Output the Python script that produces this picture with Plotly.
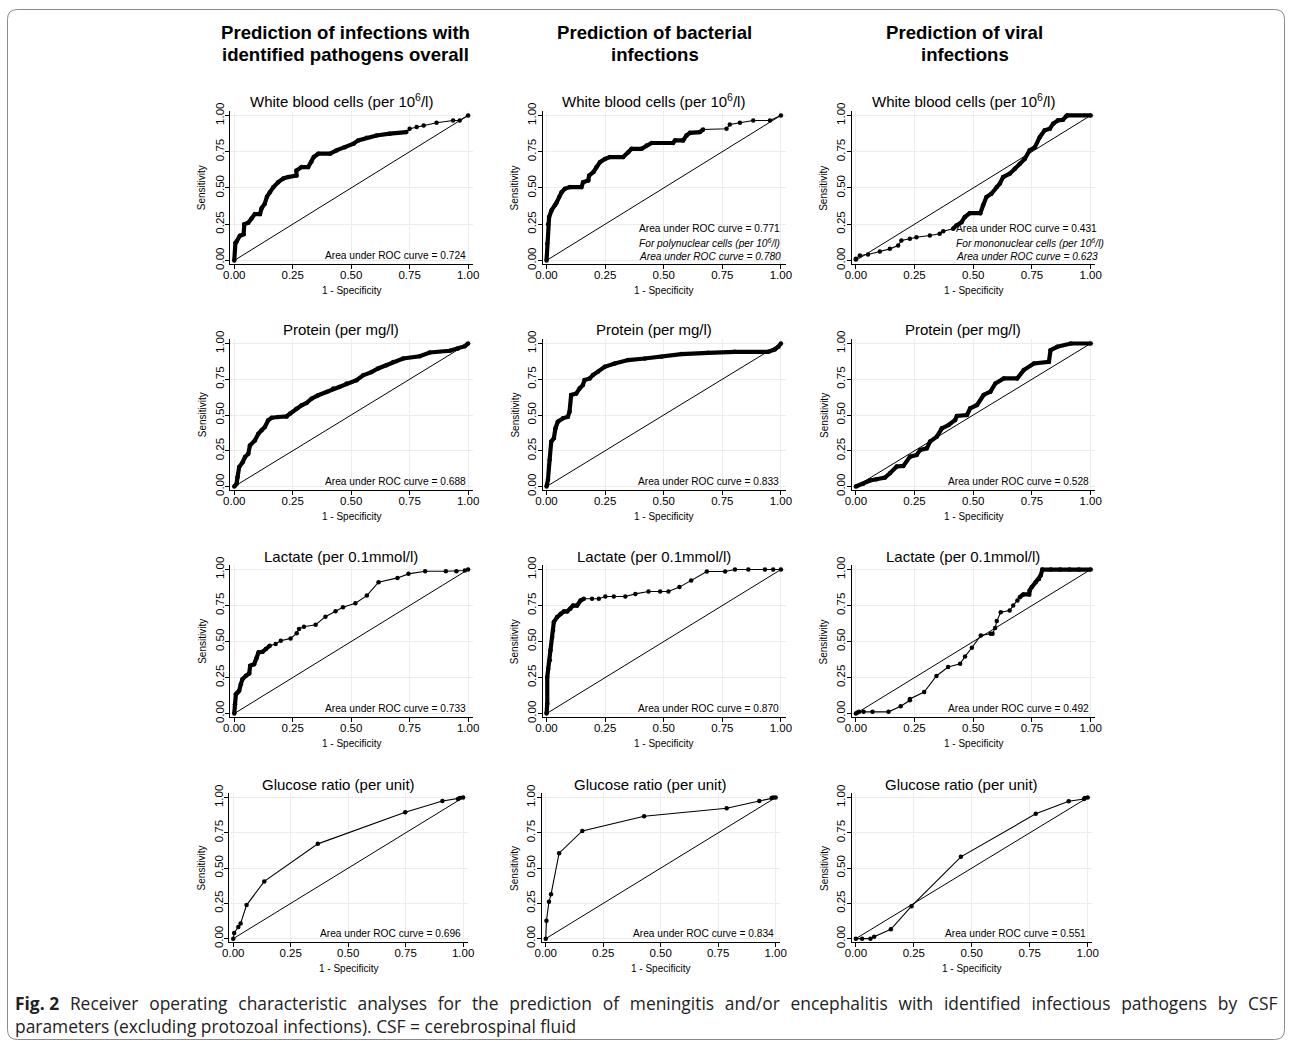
import plotly.graph_objects as go

# figure fills the whole page (body margin removed in the page script)
OFF = 0
W, H = 1292, 1046
# observed page -> picture mapping (picture = a * page + b); positions below are picture pixels
AX, BX = 0.9898, 6.6
AY, BY = 0.9854, 8.6

# ---------------- text ----------------
col_titles = [["Prediction of infections with", "identified pathogens overall"],
              ["Prediction of bacterial", "infections"],
              ["Prediction of viral", "infections"]]
row_titles = ["White blood cells (per 10<sup>6</sup>/l)", "Protein (per mg/l)",
              "Lactate (per 0.1mmol/l)", "Glucose ratio (per unit)"]
tick_vals = [0, 0.25, 0.5, 0.75, 1.0]
tick_text = ["0.00", "0.25", "0.50", "0.75", "1.00"]
auc = [["0.724", "0.771", "0.431"],
       ["0.688", "0.833", "0.528"],
       ["0.733", "0.870", "0.492"],
       ["0.696", "0.834", "0.551"]]
auc_extra = {1: ("For polynuclear cells (per 10<sup>6</sup>/l)", "0.780"),
             2: ("For mononuclear cells (per 10<sup>6</sup>/l)", "0.623")}
caption1_words = ["<b>Fig.", "2</b>", "Receiver", "operating", "characteristic", "analyses", "for",
                  "the", "prediction", "of", "meningitis", "and/or", "encephalitis", "with",
                  "identified", "infectious", "pathogens", "by", "CSF"]
caption2 = "parameters (excluding protozoal infections). CSF = cerebrospinal fluid"

# ---------------- data (1 - specificity, sensitivity) ----------------
diag = [0, 1]

wbc_all_x = [0, 0.005, 0.01, 0.024, 0.04, 0.043, 0.06, 0.074, 0.088, 0.11, 0.117, 0.13, 0.14, 0.152,
             0.167, 0.188, 0.21, 0.23, 0.266, 0.266, 0.288, 0.316, 0.33, 0.34, 0.36, 0.41, 0.437,
             0.473, 0.51, 0.53, 0.566, 0.608, 0.665, 0.736, 0.75, 0.78, 0.81, 0.865, 0.936, 0.964, 1.0]
wbc_all_y = [0, 0.12, 0.13, 0.17, 0.18, 0.25, 0.26, 0.29, 0.32, 0.32, 0.36, 0.39, 0.44, 0.47, 0.505,
             0.54, 0.565, 0.575, 0.586, 0.62, 0.644, 0.644, 0.68, 0.713, 0.736, 0.736, 0.759, 0.78,
             0.805, 0.828, 0.846, 0.862, 0.874, 0.885, 0.908, 0.92, 0.93, 0.95, 0.965, 0.965, 1.0]

wbc_bac_x = [0, 0.003, 0.007, 0.011, 0.021, 0.036, 0.043, 0.054, 0.064, 0.078, 0.1, 0.149, 0.156,
             0.178, 0.182, 0.2, 0.213, 0.228, 0.249, 0.27, 0.327, 0.349, 0.363, 0.405, 0.427, 0.448,
             0.54, 0.548, 0.583, 0.597, 0.612, 0.654, 0.668, 0.768, 0.782, 0.825, 0.882, 0.953, 1.0]
wbc_bac_y = [0, 0.115, 0.25, 0.3, 0.345, 0.38, 0.40, 0.437, 0.47, 0.494, 0.506, 0.506, 0.54, 0.552,
             0.586, 0.61, 0.644, 0.678, 0.70, 0.713, 0.713, 0.747, 0.77, 0.77, 0.793, 0.81, 0.81,
             0.828, 0.828, 0.862, 0.88, 0.885, 0.903, 0.908, 0.938, 0.95, 0.965, 0.965, 1.0]

wbc_vir_x = [0, 0, 0.017, 0.052, 0.102, 0.145, 0.18, 0.194, 0.23, 0.258, 0.315, 0.357, 0.372, 0.414,
             0.428, 0.45, 0.464, 0.485, 0.53, 0.542, 0.556, 0.577, 0.6, 0.613, 0.627, 0.655, 0.677,
             0.698, 0.719, 0.74, 0.762, 0.783, 0.804, 0.826, 0.84, 0.861, 0.882, 0.896, 0.9, 1.0]
wbc_vir_y = [0.007, 0.011, 0.034, 0.041, 0.062, 0.08, 0.103, 0.138, 0.15, 0.16, 0.172, 0.184, 0.202,
             0.218, 0.241, 0.264, 0.3, 0.326, 0.326, 0.38, 0.437, 0.46, 0.506, 0.53, 0.575, 0.598,
             0.632, 0.667, 0.70, 0.76, 0.78, 0.85, 0.897, 0.908, 0.943, 0.966, 0.97, 0.995, 1.0, 1.0]

prot_all_x = [0, 0.01, 0.014, 0.021, 0.036, 0.046, 0.06, 0.067, 0.088, 0.103, 0.117, 0.131, 0.145,
              0.16, 0.188, 0.224, 0.238, 0.266, 0.288, 0.309, 0.33, 0.359, 0.395, 0.423, 0.45, 0.48,
              0.523, 0.551, 0.587, 0.615, 0.651, 0.68, 0.722, 0.793, 0.836, 0.922, 0.957, 0.986, 1.0]
prot_all_y = [0, 0.019, 0.065, 0.136, 0.17, 0.206, 0.229, 0.287, 0.322, 0.369, 0.393, 0.416, 0.463,
              0.481, 0.486, 0.49, 0.509, 0.544, 0.568, 0.584, 0.614, 0.638, 0.661, 0.685, 0.696,
              0.72, 0.743, 0.778, 0.80, 0.825, 0.848, 0.871, 0.895, 0.911, 0.937, 0.949, 0.965,
              0.981, 1.0]

prot_bac_x = [0, 0.006, 0.013, 0.02, 0.031, 0.038, 0.048, 0.07, 0.091, 0.098, 0.105, 0.127, 0.141,
              0.155, 0.162, 0.184, 0.198, 0.219, 0.248, 0.291, 0.348, 0.419, 0.49, 0.575, 0.69,
              0.803, 0.946, 0.974, 0.989, 1.0]
prot_bac_y = [0, 0.047, 0.186, 0.314, 0.337, 0.407, 0.453, 0.477, 0.488, 0.523, 0.64, 0.65, 0.686,
              0.709, 0.744, 0.756, 0.779, 0.802, 0.837, 0.86, 0.884, 0.895, 0.907, 0.926, 0.935,
              0.942, 0.942, 0.958, 0.977, 1.0]

prot_vir_x = [0, 0.031, 0.06, 0.088, 0.124, 0.145, 0.174, 0.202, 0.231, 0.259, 0.274, 0.302, 0.316,
              0.345, 0.366, 0.395, 0.423, 0.43, 0.473, 0.487, 0.516, 0.544, 0.573, 0.594, 0.63,
              0.687, 0.715, 0.758, 0.822, 0.829, 0.858, 0.915, 1.0]
prot_vir_y = [0, 0.019, 0.042, 0.051, 0.063, 0.093, 0.14, 0.144, 0.209, 0.221, 0.256, 0.267, 0.314,
              0.349, 0.407, 0.43, 0.465, 0.493, 0.5, 0.547, 0.57, 0.64, 0.663, 0.72, 0.756, 0.756,
              0.814, 0.86, 0.872, 0.953, 0.977, 1.0, 1.0]

lac_all_x = [0, 0.003, 0.007, 0.014, 0.021, 0.028, 0.035, 0.05, 0.064, 0.068, 0.085, 0.095, 0.104,
             0.121, 0.135, 0.152, 0.177, 0.199, 0.241, 0.267, 0.277, 0.298, 0.348, 0.39, 0.433,
             0.465, 0.518, 0.567, 0.617, 0.698, 0.745, 0.816, 0.905, 0.95, 0.986, 1.0]
lac_all_y = [0, 0.065, 0.135, 0.146, 0.158, 0.204, 0.239, 0.262, 0.278, 0.332, 0.343, 0.385, 0.425,
             0.429, 0.448, 0.471, 0.483, 0.506, 0.522, 0.557, 0.587, 0.603, 0.617, 0.673, 0.71,
             0.738, 0.766, 0.819, 0.912, 0.942, 0.97, 0.988, 0.988, 0.988, 0.993, 1.0]

lac_bac_x = [0, 0.003, 0.003, 0.007, 0.014, 0.017, 0.024, 0.028, 0.031, 0.045, 0.06, 0.074, 0.088,
             0.102, 0.113, 0.13, 0.145, 0.159, 0.194, 0.223, 0.251, 0.287, 0.336, 0.379, 0.435,
             0.485, 0.52, 0.567, 0.617, 0.684, 0.762, 0.804, 0.861, 0.932, 0.967, 1.0]
lac_bac_y = [0, 0.069, 0.254, 0.312, 0.37, 0.439, 0.531, 0.577, 0.635, 0.67, 0.693, 0.709, 0.709,
             0.727, 0.75, 0.75, 0.785, 0.797, 0.797, 0.797, 0.813, 0.813, 0.813, 0.831, 0.848,
             0.848, 0.848, 0.878, 0.924, 0.986, 0.986, 1, 1, 1, 1, 1]

lac_vir_x = [0, 0.007, 0.014, 0.033, 0.071, 0.139, 0.191, 0.23, 0.23, 0.291, 0.343, 0.393, 0.444,
             0.465, 0.494, 0.532, 0.574, 0.582, 0.593, 0.6, 0.617, 0.655, 0.67, 0.688, 0.698, 0.713,
             0.738, 0.74, 0.749, 0.766, 0.78, 0.787, 0.794, 0.83, 0.87, 0.91, 0.95, 1.0]
lac_vir_y = [0, 0.007, 0.012, 0.012, 0.012, 0.012, 0.051, 0.092, 0.102, 0.15, 0.261, 0.323, 0.346,
             0.397, 0.457, 0.543, 0.554, 0.554, 0.594, 0.642, 0.704, 0.716, 0.75, 0.785, 0.808,
             0.827, 0.827, 0.855, 0.878, 0.912, 0.935, 0.958, 1.0, 1.0, 1.0, 1.0, 1.0, 1.0]

glu_all_x = [0, 0.004, 0.022, 0.032, 0.058, 0.135, 0.368, 0.748, 0.91, 0.978, 0.986, 1.0]
glu_all_y = [0, 0.04, 0.083, 0.108, 0.238, 0.406, 0.672, 0.896, 0.976, 0.991, 0.998, 1.0]

glu_bac_x = [0, 0.003, 0.014, 0.023, 0.058, 0.159, 0.428, 0.787, 0.929, 0.983, 0.99, 1.0]
glu_bac_y = [0, 0.127, 0.262, 0.314, 0.606, 0.764, 0.868, 0.925, 0.976, 0.998, 1.0, 1.0]

glu_vir_x = [0, 0.027, 0.063, 0.079, 0.151, 0.24, 0.453, 0.776, 0.918, 0.984, 0.988, 1.0]
glu_vir_y = [0, 0, 0, 0.014, 0.066, 0.23, 0.58, 0.885, 0.974, 0.99, 0.998, 1.0]

curves = [[(wbc_all_x, wbc_all_y), (wbc_bac_x, wbc_bac_y), (wbc_vir_x, wbc_vir_y)],
          [(prot_all_x, prot_all_y), (prot_bac_x, prot_bac_y), (prot_vir_x, prot_vir_y)],
          [(lac_all_x, lac_all_y), (lac_bac_x, lac_bac_y), (lac_vir_x, lac_vir_y)],
          [(glu_all_x, glu_all_y), (glu_bac_x, glu_bac_y), (glu_vir_x, glu_vir_y)]]

# ---------------- styling / layout (pixel geometry of the picture) ----------------
thick = [[(0, 0.74), (0, 0.69), (0.40, 1.0)],
         [(0, 1.0), (0, 1.0), (0, 1.0)],
         [(0, 0.16), (0, 0.16), (0.69, 1.0)],
         [None, None, None]]
col_x0 = [[234, 546.5, 856], [234, 546.5, 856], [234, 546.5, 856], [233, 545.7, 856]]
col_w = [[234, 234.5, 235], [234, 234.5, 235], [234, 234.5, 235], [230, 230, 232]]
row_y1 = [115, 343, 569, 797]
row_y0 = [260, 486, 713, 938]
title_y = [100.5, 329, 555.5, 783.5]
XR = [-0.017, 1.02]
YR = [-0.025, 1.03]

FONT = "Liberation Sans, Arial, Helvetica, sans-serif"
fig = go.Figure()
annotations = []
layout = {}


def px2x(p):
    return ((p - BX) / AX - OFF) / W


def px2y(p):
    return 1 - ((p - BY) / AY - OFF) / H


for r in range(4):
    for c in range(3):
        k = r * 3 + c
        sfx = "" if k == 0 else str(k + 1)
        xa, ya = "x" + sfx, "y" + sfx
        x0, w = col_x0[r][c], col_w[r][c]
        y1, y0 = row_y1[r], row_y0[r]
        h = y0 - y1
        xdom = [px2x(x0 + XR[0] * w), px2x(x0 + XR[1] * w)]
        ydom = [px2y(y0 - YR[0] * h), px2y(y0 - YR[1] * h)]
        common = dict(tickvals=tick_vals, ticktext=tick_text, showline=True,
                      linecolor="#000", linewidth=1, ticks="outside", ticklen=4, tickwidth=1,
                      tickcolor="#000", showgrid=True, gridcolor="#ececec", gridwidth=1,
                      zeroline=False, tickfont=dict(family=FONT, size=11.5, color="#000"),
                      fixedrange=True)
        xd = dict(common); xd.update(range=XR, domain=xdom, anchor=ya)
        yd = dict(common); yd.update(range=YR, domain=ydom, anchor=xa, tickangle=-90)
        layout["xaxis" + sfx] = xd
        layout["yaxis" + sfx] = yd

        cx, cy = curves[r][c]
        fig.add_trace(go.Scatter(x=diag, y=diag, mode="lines", xaxis=xa, yaxis=ya,
                                 line=dict(color="#000", width=1), hoverinfo="skip"))
        if thick[r][c] is not None:
            lo, hi = thick[r][c]
            tx = [a for a, b in zip(cx, cy) if lo <= a <= hi]
            ty = [b for a, b in zip(cx, cy) if lo <= a <= hi]
            fig.add_trace(go.Scatter(x=tx, y=ty, mode="lines", xaxis=xa, yaxis=ya,
                                     line=dict(color="#000", width=4.2)))
        fig.add_trace(go.Scatter(x=cx, y=cy, mode="lines+markers", xaxis=xa, yaxis=ya,
                                 line=dict(color="#000", width=1.1),
                                 marker=dict(color="#000", size=4.5, symbol="circle")))

        annotations.append(dict(text=row_titles[r], x=px2x(x0 + w / 2 - 10), y=px2y(title_y[r]),
                                xref="paper", yref="paper", showarrow=False, xanchor="center",
                                yanchor="middle", font=dict(family=FONT, size=15, color="#000")))
        annotations.append(dict(text="Sensitivity", x=px2x(x0 - 32), y=px2y((y0 + y1) / 2),
                                xref="paper", yref="paper", showarrow=False, textangle=-90,
                                xanchor="center", yanchor="middle",
                                font=dict(family=FONT, size=10, color="#000")))
        annotations.append(dict(text="1 - Specificity", x=px2x(x0 + w / 2), y=px2y(y0 + 30),
                                xref="paper", yref="paper", showarrow=False,
                                xanchor="center", yanchor="middle",
                                font=dict(family=FONT, size=10, color="#000")))
        afont = dict(family=FONT, size=10.2, color="#000")
        if r == 0 and c in auc_extra:
            lx = 0.388 if c == 1 else 0.42
            sub, v2 = auc_extra[c]
            for txt, yy in [("Area under ROC curve = " + auc[r][c], 0.22),
                            ("<i>" + sub + "</i>", 0.122),
                            ("<i>Area under ROC curve = " + v2 + "</i>", 0.03)]:
                annotations.append(dict(text=txt, x=lx, y=yy, xref=xa, yref=ya, showarrow=False,
                                        xanchor="left", yanchor="middle", font=afont))
        else:
            annotations.append(dict(text="Area under ROC curve = " + auc[r][c], x=1.0, y=0.037,
                                    xref=xa, yref=ya, showarrow=False, xanchor="right",
                                    yanchor="middle", font=afont))

col_cx = [345, 655, 965]
for c in range(3):
    for i, line in enumerate(col_titles[c]):
        annotations.append(dict(text="<b>" + line + "</b>", x=px2x(col_cx[c]), y=px2y(32 + 22 * i),
                                xref="paper", yref="paper", showarrow=False, xanchor="center",
                                yanchor="middle", font=dict(family=FONT, size=18.6, color="#000")))

# caption (first line justified: widened word gaps)
CAPF = dict(family="Open Sans, Noto Sans, sans-serif", size=17.4, color="#222")
gap = "\u00a0\u200a "
caption1 = caption1_words[0] + " " + gap.join(caption1_words[1:])
annotations.append(dict(text=caption1 + "<br>" + caption2, x=px2x(13), y=px2y(1014),
                        xref="paper", yref="paper", showarrow=False, xanchor="left",
                        yanchor="middle", align="left", font=CAPF))

# rounded border (kept inside the figure area)
bl = max((5 - BX) / AX - OFF, 0.5)
br = min((1287 - BX) / AX - OFF, W - 0.5)
bt = max((8 - BY) / AY - OFF, 0.5)
bb = min((1040 - BY) / AY - OFF, H - 0.5)
rad = 10
def P(x, y):
    return f"{x / W:.5f},{1 - y / H:.5f}"
path = (f"M {P(bl + rad, bt)} L {P(br - rad, bt)} Q {P(br, bt)} {P(br, bt + rad)} "
        f"L {P(br, bb - rad)} Q {P(br, bb)} {P(br - rad, bb)} L {P(bl + rad, bb)} "
        f"Q {P(bl, bb)} {P(bl, bb - rad)} L {P(bl, bt + rad)} Q {P(bl, bt)} {P(bl + rad, bt)} Z")

layout.update(width=W, height=H, margin=dict(l=0, r=0, t=0, b=0), showlegend=False,
              paper_bgcolor="#fff", plot_bgcolor="#fff", annotations=annotations,
              shapes=[dict(type="path", path=path, xref="paper", yref="paper",
                           line=dict(color="#8a8a8a", width=1), layer="below")])
fig.update_layout(**layout)
# pull the tick labels a little closer to the axes (as in the original)
try:
    fig.update_xaxes(ticklabelstandoff=-4)
    fig.update_yaxes(ticklabelstandoff=-3)
except Exception:
    pass
fig.write_html("out.html", config={"displayModeBar": False},
               post_script="document.body.style.margin='0';")
